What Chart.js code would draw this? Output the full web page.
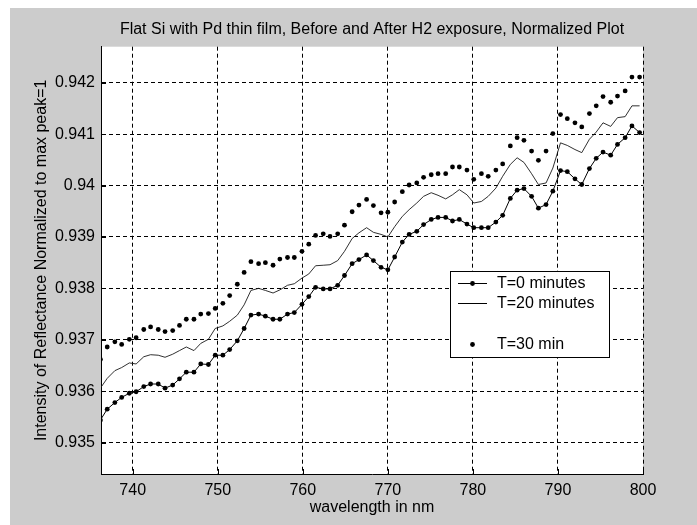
<!DOCTYPE html>
<html>
<head>
<meta charset="utf-8">
<script src="https://cdn.jsdelivr.net/npm/chart.js@4.4.1/dist/chart.umd.min.js"></script>
<style>
  html, body { margin: 0; padding: 0; background: #ffffff; }
  #wrap { position: absolute; left: 10px; top: 8px; width: 687px; height: 517px; background: #cccccc; }
</style>
</head>
<body>
<div id="wrap"><canvas id="spectrumChart" width="687" height="517"></canvas></div>
<script>
// wavelength samples (nm)
var wavelength = [736.2, 737.0, 737.9, 738.7, 739.6, 740.4, 741.3, 742.1, 743.0, 743.8,
    744.7, 745.5, 746.3, 747.2, 748.0, 748.9, 749.7, 750.6, 751.4, 752.3,
    753.1, 753.9, 754.8, 755.6, 756.5, 757.3, 758.2, 759.0, 759.9, 760.7,
    761.5, 762.4, 763.2, 764.1, 764.9, 765.8, 766.6, 767.5, 768.3, 769.2,
    770.0, 770.8, 771.7, 772.5, 773.4, 774.2, 775.1, 775.9, 776.8, 777.6,
    778.4, 779.3, 780.1, 781.0, 781.8, 782.7, 783.5, 784.4, 785.2, 786.0,
    786.9, 787.7, 788.6, 789.4, 790.3, 791.1, 792.0, 792.8, 793.7, 794.5,
    795.3, 796.2, 797.0, 797.9, 798.7, 799.6];

// T=0 minutes
var t0 = [0.93544, 0.93565, 0.93578, 0.93588, 0.93596, 0.93599, 0.93609, 0.93614, 0.93614, 0.93606,
    0.93612, 0.93624, 0.93637, 0.93637, 0.93653, 0.93652, 0.93670, 0.93670, 0.93681, 0.93698,
    0.93722, 0.93748, 0.93750, 0.93746, 0.93740, 0.93740, 0.93750, 0.93753, 0.93769, 0.93784,
    0.93802, 0.93799, 0.93799, 0.93806, 0.93825, 0.93848, 0.93856, 0.93865, 0.93854, 0.93841,
    0.93836, 0.93861, 0.93890, 0.93905, 0.93911, 0.93924, 0.93934, 0.93938, 0.93938, 0.93931,
    0.93934, 0.93925, 0.93918, 0.93918, 0.93918, 0.93929, 0.93942, 0.93975, 0.93991, 0.93994,
    0.93979, 0.93956, 0.93963, 0.93989, 0.94029, 0.94027, 0.94013, 0.94002, 0.94033, 0.94053,
    0.94065, 0.94059, 0.94080, 0.94093, 0.94116, 0.94103];

// T=20 minutes
var t20 = [0.93606, 0.93625, 0.93640, 0.93646, 0.93655, 0.93653, 0.93667, 0.93671, 0.93670, 0.93666,
    0.93672, 0.93679, 0.93686, 0.93679, 0.93693, 0.93701, 0.93722, 0.93727, 0.93736, 0.93748,
    0.93768, 0.93796, 0.93800, 0.93796, 0.93791, 0.93797, 0.93806, 0.93809, 0.93820, 0.93828,
    0.93844, 0.93845, 0.93846, 0.93854, 0.93872, 0.93897, 0.93908, 0.93918, 0.93909, 0.93905,
    0.93900, 0.93920, 0.93940, 0.93953, 0.93966, 0.93979, 0.93986, 0.93981, 0.93974, 0.93982,
    0.93992, 0.93982, 0.93966, 0.93969, 0.93979, 0.93995, 0.94018, 0.94041, 0.94054, 0.94045,
    0.94023, 0.94002, 0.94005, 0.94034, 0.94083, 0.94078, 0.94070, 0.94064, 0.94090, 0.94104,
    0.94122, 0.94115, 0.94132, 0.94134, 0.94155, 0.94155];

// T=30 min
var t30 = [0.93662, 0.93686, 0.93696, 0.93691, 0.93701, 0.93704, 0.93720, 0.93725, 0.93720, 0.93716,
    0.93718, 0.93728, 0.93740, 0.93740, 0.93750, 0.93751, 0.93761, 0.93771, 0.93786, 0.93808,
    0.93831, 0.93852, 0.93848, 0.93850, 0.93845, 0.93857, 0.93860, 0.93860, 0.93872, 0.93886,
    0.93903, 0.93906, 0.93901, 0.93906, 0.93923, 0.93949, 0.93962, 0.93973, 0.93961, 0.93947,
    0.93948, 0.93968, 0.93988, 0.94001, 0.94005, 0.94016, 0.94021, 0.94023, 0.94023, 0.94036,
    0.94036, 0.94030, 0.94012, 0.94023, 0.94018, 0.94030, 0.94042, 0.94077, 0.94093, 0.94088,
    0.94067, 0.94049, 0.94067, 0.94101, 0.94138, 0.94130, 0.94122, 0.94114, 0.94140, 0.94155,
    0.94173, 0.94162, 0.94174, 0.94184, 0.94211, 0.94211];

var xTicks = [740, 750, 760, 770, 780, 790, 800];
var yTicks = [0.935, 0.936, 0.937, 0.938, 0.939, 0.94, 0.941, 0.942];

var FONT = "'Liberation Sans', Arial, sans-serif";

function points(ys) {
    return wavelength.map((x, i) => ({ x: x, y: ys[i] }));
}

// white axes box, matlab style inward ticks, and the boxed legend
var matlabAxes = {
    id: 'matlabAxes',
    beforeDraw(chart) {
        var a = chart.chartArea, c = chart.ctx;
        c.save();
        c.fillStyle = '#ffffff';
        c.fillRect(a.left, a.top, a.right - a.left, a.bottom - a.top);
        c.restore();
    },
    afterDraw(chart) {
        var a = chart.chartArea, c = chart.ctx;
        var xs = chart.scales.x, ys = chart.scales.y;
        c.save();
        c.strokeStyle = '#000';
        c.lineWidth = 1;
        c.beginPath();
        xTicks.forEach(v => {
            var px = Math.round(xs.getPixelForValue(v)) + 0.5;
            c.moveTo(px, a.bottom);
            c.lineTo(px, a.bottom - 5);
        });
        yTicks.forEach(v => {
            var py = Math.round(ys.getPixelForValue(v)) + 0.5;
            c.moveTo(a.left, py);
            c.lineTo(a.left + 5, py);
        });
        c.stroke();

        // legend
        var lx = 440, ly = 263, lw = 159, lh = 86;
        c.fillStyle = '#ffffff';
        c.fillRect(lx, ly, lw, lh);
        c.strokeRect(lx + 0.5, ly + 0.5, lw, lh);
        var rows = [12, 32, 73];
        var ds = chart.data.datasets;
        c.font = '16px ' + FONT;
        c.textBaseline = 'middle';
        c.textAlign = 'left';
        c.fillStyle = '#000';
        ds.forEach((d, i) => {
            var y = ly + rows[i] + 0.5;
            if (d.showLine !== false) {
                c.beginPath();
                c.moveTo(lx + 8, y);
                c.lineTo(lx + 37, y);
                c.stroke();
            }
            if (d.pointRadius > 0) {
                c.beginPath();
                c.arc(lx + 22.5, y, d.pointRadius, 0, Math.PI * 2);
                c.fill();
            }
            c.fillText(d.label, lx + 47, y);
        });
        c.restore();
    }
};

var ctx = document.getElementById('spectrumChart').getContext('2d');

new Chart(ctx, {
    type: 'line',
    data: {
        datasets: [{
            label: 'T=0 minutes',
            data: points(t0),
            borderColor: '#000000',
            backgroundColor: '#000000',
            borderWidth: 1,
            pointRadius: 2.4,
            pointBorderWidth: 0,
            tension: 0,
        }, {
            label: 'T=20 minutes',
            data: points(t20),
            borderColor: '#1a1a1a',
            borderWidth: 0.9,
            pointRadius: 0,
            tension: 0,
        }, {
            label: 'T=30 min',
            data: points(t30),
            showLine: false,
            backgroundColor: '#000000',
            borderColor: '#000000',
            pointRadius: 2.4,
            pointBorderWidth: 0,
        }],
    },
    options: {
        responsive: false,
        animation: false,
        devicePixelRatio: 1,
        layout: {
            padding: { left: 0, right: 54, top: 0, bottom: 0 },
        },
        plugins: {
            legend: { display: false },
            tooltip: { enabled: false },
            title: {
                display: true,
                fullSize: false,
                text: 'Flat Si with Pd thin film, Before and After H2 exposure, Normalized Plot',
                color: '#000',
                font: { family: FONT, size: 16, weight: 'normal' },
                padding: { top: 12.4, bottom: 7.1 },
            },
        },
        scales: {
            x: {
                type: 'linear',
                min: 736.27,
                max: 800,
                afterBuildTicks: scale => { scale.ticks = xTicks.map(v => ({ value: v })); },
                afterFit: scale => { scale.height = 51; },
                grid: {
                    color: '#000',
                    lineWidth: 1,
                    drawTicks: false,
                },
                border: { display: true, color: '#000', width: 1, dash: [4, 3] },
                ticks: {
                    color: '#000',
                    padding: 7,
                    font: { family: FONT, size: 16 },
                    callback: v => String(v),
                },
                title: {
                    display: true,
                    text: 'wavelength in nm',
                    color: '#000',
                    font: { family: FONT, size: 16 },
                    padding: { top: 0, bottom: 7.4 },
                },
            },
            y: {
                type: 'linear',
                min: 0.93439,
                max: 0.9427,
                afterBuildTicks: scale => { scale.ticks = yTicks.map(v => ({ value: v })); },
                afterFit: scale => { scale.width = 91; },
                grid: {
                    color: '#000',
                    lineWidth: 1,
                    drawTicks: false,
                },
                border: { display: true, color: '#000', width: 1, dash: [4, 3] },
                ticks: {
                    color: '#000',
                    padding: 6,
                    font: { family: FONT, size: 16 },
                    callback: v => String(+v.toFixed(3)),
                },
                title: {
                    display: true,
                    text: 'Intensity of Reflectance Normalized to max peak=1',
                    color: '#000',
                    font: { family: FONT, size: 16 },
                    padding: { top: 21.9, bottom: 0 },
                },
            },
        },
    },
    plugins: [matlabAxes],
});
</script>
</body>
</html>
